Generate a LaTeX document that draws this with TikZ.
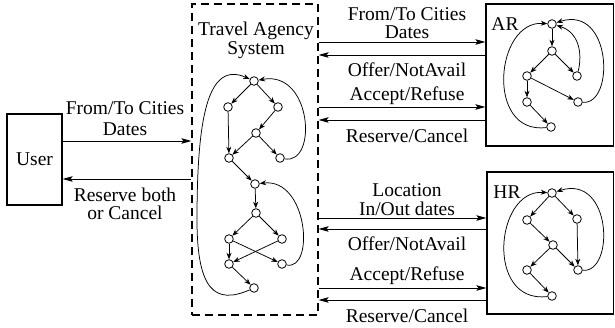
\documentclass[tikz,border=0pt]{standalone}
\usepackage{fontspec}
\setmainfont{Liberation Serif}
\usetikzlibrary{arrows.meta}
\begin{document}
\begin{tikzpicture}[x=1pt,y=-1pt,
  lbl/.style={font=\fontsize{19.5}{#1}\selectfont, align=center, inner sep=0pt},
  lbl/.default=20,
  st/.style={circle, draw, line width=0.8pt, minimum size=8.6pt, inner sep=0pt},
  ga/.style={-{Stealth[length=6.5pt,width=5pt,inset=2pt]}, line width=0.75pt},
  msg/.style={-{Stealth[length=10pt,width=5.5pt,inset=2pt]}, line width=0.9pt},
  box/.style={draw, line width=1.2pt, inner sep=0pt},
  dbox/.style={draw, line width=1.2pt, dash pattern=on 8pt off 5pt, inner sep=0pt}
]
\useasboundingbox (0,0) rectangle (615,328);

% boxes
\node[box, minimum width=55pt, minimum height=91pt, font=\fontsize{19.5}{21}\selectfont] (user) at (34.5,159.5) {User};
\node[dbox, minimum width=126pt, minimum height=311pt] (ta) at (255,159.5) {};
\node[box, minimum width=127.5pt, minimum height=142pt] (ar) at (549.75,75) {};
\node[box, minimum width=126.5pt, minimum height=142pt] (hr) at (550.25,243) {};

\node[lbl=18.5] (tatitle) at (256,40.5) {Travel Agency\\System};
\node[lbl] (artitle) at (505,24) {AR};
\node[lbl] (hrtitle) at (507,192) {HR};

% message arrows
\coordinate (u1) at (0,141);
\coordinate (u2) at (0,179);
\draw[msg] (user.east |- u1) -- (ta.west |- u1);
\draw[msg] (ta.west |- u2) -- (user.east |- u2);
\node[lbl=21] (lu1) at (125,118.5) {From/To Cities\\Dates};
\node[lbl=18.5] (lu2) at (125,204) {Reserve both\\or Cancel};

\coordinate (m1) at (0,42);
\coordinate (m2) at (0,55);
\coordinate (m3) at (0,107);
\coordinate (m4) at (0,120);
\draw[msg] (ta.east |- m1) -- (ar.west |- m1);
\draw[msg] (ar.west |- m2) -- (ta.east |- m2);
\draw[msg] (ta.east |- m3) -- (ar.west |- m3);
\draw[msg] (ar.west |- m4) -- (ta.east |- m4);
\node[lbl=18.2] (la1) at (407,23.5) {From/To Cities\\Dates};
\node[lbl] (la2) at (407,70) {Offer/NotAvail};
\node[lbl] (la3) at (407,96) {Accept/Refuse};
\node[lbl] (la4) at (407,136) {Reserve/Cancel};

\coordinate (k1) at (0,218);
\coordinate (k2) at (0,229);
\coordinate (k3) at (0,288);
\coordinate (k4) at (0,300);
\draw[msg] (ta.east |- k1) -- (hr.west |- k1);
\draw[msg] (hr.west |- k2) -- (ta.east |- k2);
\draw[msg] (ta.east |- k3) -- (hr.west |- k3);
\draw[msg] (hr.west |- k4) -- (ta.east |- k4);
\node[lbl=19] (lh1) at (407,199.5) {Location\\In/Out dates};
\node[lbl] (lh2) at (407,244) {Offer/NotAvail};
\node[lbl] (lh3) at (407,276) {Accept/Refuse};
\node[lbl] (lh4) at (407,316) {Reserve/Cancel};

% Travel agency graph
\node[st] (n1) at (254,81) {};
\node[st] (n2) at (228,107) {};
\node[st] (n3) at (278,107) {};
\node[st] (n4) at (256,133) {};
\node[st] (n5) at (229,158) {};
\node[st] (n6) at (280,158) {};
\node[st] (n7) at (255,184) {};
\node[st] (n8) at (256,213) {};
\node[st] (n9) at (229,239) {};
\node[st] (n10) at (282,239) {};
\node[st] (n11) at (229,264) {};
\node[st] (n12) at (282,264) {};
\node[st] (n13) at (254,288) {};
\draw[ga] (n1) -- (n2);
\draw[ga] (n1) -- (n3);
\draw[ga] (n2) -- (n5);
\draw[ga] (n3) -- (n4);
\draw[ga] (n4) -- (n5);
\draw[ga] (n4) -- (n6);
\draw[ga] (n5) -- (n7);
\draw[ga] (n7) -- (n8);
\draw[ga] (n8) -- (n9);
\draw[ga] (n8) -- (n10);
\draw[ga] (n9) -- (n11);
\draw[ga] (n9) -- (n12);
\draw[ga] (n10) -- (n11);
\draw[ga] (n11) -- (n13);
\draw[ga] (n6) .. controls (318,165) and (312,70) .. (n1);
\draw[ga] (n12) .. controls (315,271) and (308,178) .. (n7);
\coordinate (lc) at (197,220);
\draw[ga] (n13) .. controls (215,305) and (197,290) .. (lc) .. controls (197,120) and (207,60) .. (n1);

% AR graph
\node[st] (a1) at (552,24) {};
\node[st] (a2) at (552,51) {};
\node[st] (a3) at (527,76) {};
\node[st] (a4) at (577,76) {};
\node[st] (a5) at (527,102) {};
\node[st] (a6) at (578,102) {};
\node[st] (a7) at (551,127) {};
\draw[ga] (a1) -- (a2);
\draw[ga] (a2) -- (a3);
\draw[ga] (a2) -- (a4);
\draw[ga] (a3) -- (a5);
\draw[ga] (a3) -- (a6);
\draw[ga] (a5) -- (a7);
\draw[ga] (a4) .. controls (583,52) and (578,32) .. (a1);
\draw[ga] (a6) .. controls (615,105) and (612,5) .. (a1);
\draw[ga] (a7) .. controls (485,135) and (495,20) .. (a1);

% HR graph
\node[st] (h1) at (552,193) {};
\node[st] (h2) at (527,220) {};
\node[st] (h3) at (577,219) {};
\node[st] (h4) at (553,245) {};
\node[st] (h5) at (527,270) {};
\node[st] (h6) at (578,270) {};
\node[st] (h7) at (552,296) {};
\draw[ga] (h1) -- (h2);
\draw[ga] (h1) -- (h3);
\draw[ga] (h2) -- (h4);
\draw[ga] (h3) -- (h6);
\draw[ga] (h4) -- (h5);
\draw[ga] (h4) -- (h6);
\draw[ga] (h5) -- (h7);
\draw[ga] (h6) .. controls (615,273) and (612,174) .. (h1);
\draw[ga] (h7) .. controls (485,304) and (495,189) .. (h1);
\end{tikzpicture}
\end{document}
